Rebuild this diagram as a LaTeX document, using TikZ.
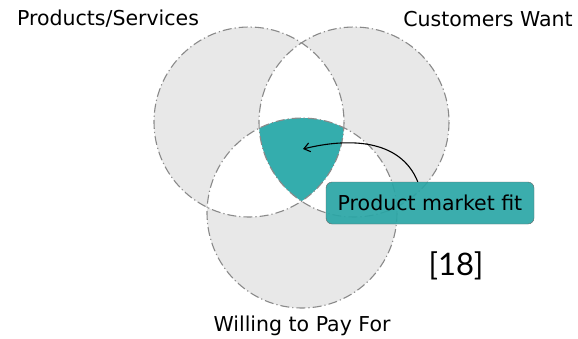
\documentclass[tikz,border=0pt]{standalone}
\usepackage{fontspec}
\setmainfont{DejaVu Sans}
\newfontfamily\thinfont{Lato}
\usetikzlibrary{arrows.meta,calc}
\definecolor{vgray}{HTML}{E8E8E8}
\definecolor{vline}{HTML}{8A8A8A}
\definecolor{vteal}{HTML}{34ADAD}
\definecolor{vboxteal}{HTML}{2AA6A6}
\begin{document}
\begin{tikzpicture}[x=1pt,y=-1pt,
  lbl/.style={font=\fontsize{20.5}{24}\selectfont, inner sep=0pt},
  outline/.style={draw=vline, line width=1.1pt, dash pattern=on 9pt off 3pt on 1.2pt off 3pt},
  fitbox/.style={draw=black!60, fill=vboxteal, fill opacity=0.92, text opacity=1, rounded corners=6pt,
    minimum width=208pt, minimum height=42pt, inner sep=0pt, font=\fontsize{20.5}{24}\selectfont},
  pointer/.style={-{Straight Barb[length=6pt,width=9pt]}, line width=1.1pt, black}]
\useasboundingbox (0,0) rectangle (578,338);
\coordinate (A) at (249,122);
\coordinate (B) at (354,122);
\coordinate (C) at (302,213);
\def\R{95}
% single regions
\fill[vgray] (A) circle (\R);
\fill[vgray] (B) circle (\R);
\fill[vgray] (C) circle (\R);
% pairwise overlaps
\begin{scope}\clip (A) circle (\R); \fill[white] (B) circle (\R);\end{scope}
\begin{scope}\clip (A) circle (\R); \fill[white] (C) circle (\R);\end{scope}
\begin{scope}\clip (B) circle (\R); \fill[white] (C) circle (\R);\end{scope}
% triple overlap
\begin{scope}\clip (A) circle (\R); \clip (B) circle (\R); \fill[vteal] (C) circle (\R);\end{scope}
% outlines
\draw[outline] (A) circle (\R);
\draw[outline] (B) circle (\R);
\draw[outline] (C) circle (\R);
% labels
\node[lbl] (ps) at (108,19) {Products/Services};
\node[lbl] (cw) at (488,19) {Customers Want};
\node[lbl] (wp) at (302,326) {Willing to Pay For};
\node[lbl, font=\thinfont\fontsize{31}{34}\selectfont] (ref) at (456,266) {[18]};
% box
\node[fitbox] (fit) at (430,203) {Product market fit};
\coordinate (core) at (303,149);
\draw[pointer] ($(fit.north west)+(92,0)$) to[out=112,in=14] (core);
\end{tikzpicture}
\end{document}
